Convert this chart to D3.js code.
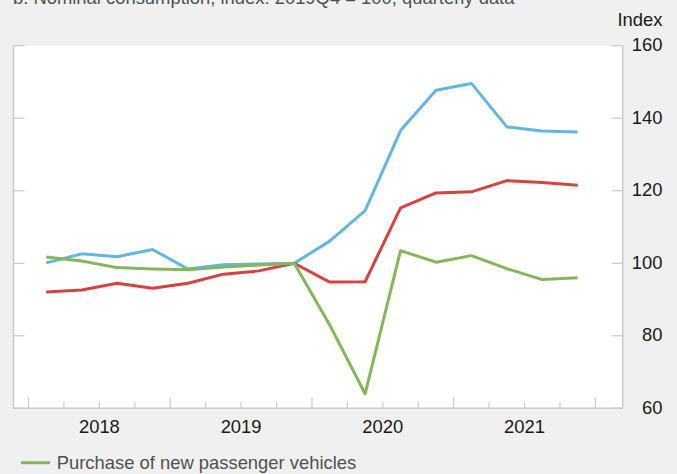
<!DOCTYPE html>
<html>
<head>
<meta charset="utf-8">
<script src="https://cdn.jsdelivr.net/npm/d3@7"></script>
<style>
html,body{margin:0;padding:0;background:#f0f0f0;}
svg{display:block;}
text{font-family:"Liberation Sans",Arial,Helvetica,sans-serif;}
</style>
</head>
<body>
<svg id="chart" width="677" height="474"></svg>
<script>
// Quarters 2018Q1 .. 2021Q4
const quarters = ["2018Q1","2018Q2","2018Q3","2018Q4","2019Q1","2019Q2","2019Q3","2019Q4",
                  "2020Q1","2020Q2","2020Q3","2020Q4","2021Q1","2021Q2","2021Q3","2021Q4"];
const years = [2018, 2019, 2020, 2021];
const yTicks = [60, 80, 100, 120, 140, 160];

const blueValues  = [100.1, 102.6, 101.8, 103.8, 98.4, 99.6, 99.8, 100, 106.1, 114.5, 136.6, 147.7, 149.6, 137.6, 136.5, 136.2];
const redValues   = [92.1, 92.6, 94.5, 93.1, 94.5, 97.0, 97.9, 100, 94.8, 94.9, 115.3, 119.4, 119.7, 122.8, 122.3, 121.5];
const greenValues = [101.7, 100.65, 98.8, 98.45, 98.2, 99.0, 99.5, 100, 83.0, 64.0, 103.5, 100.3, 102.1, 98.5, 95.5, 96.0];

const seriesNames = ["Blue series", "Red series", "Purchase of new passenger vehicles"];
const colors = ["#63b6df", "#d6433e", "#84b75a"];

const title = "b. Nominal consumption, index: 2019Q4 = 100, quarterly data";

const svg = d3.select("#chart");
const L = 13.5, R = 622.7, T = 45.7, B = 408.3;
const FS = 18.4;

// x: quarter index (0 = start of 2018Q1)
const x = d3.scaleLinear().domain([-0.424, 16.77]).range([L, R]);
const y = d3.scaleLinear().domain([60, 160]).range([B, T]);

// title (cut off at top, as in the reference)
svg.append("text").attr("x", 13).attr("y", 4).attr("font-size", FS).attr("fill", "#505050").text(title);

// plot area
svg.append("rect").attr("x", L).attr("y", T).attr("width", R - L).attr("height", B - T).attr("fill", "#fff");

const axisColor = "#c9c9c9";
// frame lines: left, bottom, right
svg.append("line").attr("x1", L).attr("x2", L).attr("y1", T).attr("y2", B).attr("stroke", axisColor).attr("stroke-width", 1.5);
svg.append("line").attr("x1", R).attr("x2", R).attr("y1", T).attr("y2", B).attr("stroke", axisColor).attr("stroke-width", 1.5);
svg.append("line").attr("x1", L).attr("x2", R).attr("y1", B).attr("y2", B).attr("stroke", axisColor).attr("stroke-width", 1.5);

// y ticks (left inward and right inward)
const yt = svg.append("g");
yTicks.forEach(v => {
  yt.append("line").attr("x1", L).attr("x2", L + 11).attr("y1", y(v)).attr("y2", y(v)).attr("stroke", axisColor).attr("stroke-width", 1.2);
  yt.append("line").attr("x1", R - 11).attr("x2", R).attr("y1", y(v)).attr("y2", y(v)).attr("stroke", axisColor).attr("stroke-width", 1.2);
});
// right axis labels
const yAxis = d3.axisRight(y).tickValues(yTicks).tickSize(0).tickPadding(0).tickFormat(d3.format("d"));
const ya = svg.append("g").attr("transform", `translate(662.5,0)`).call(yAxis);
ya.select(".domain").remove();
ya.selectAll("text").attr("text-anchor", "end").attr("font-size", FS).attr("fill", "#1a1a1a")
  .attr("font-family", "Liberation Sans, Arial, sans-serif").attr("dy", "0.28em");
svg.append("text").attr("x", 662.5).attr("y", 25.7).attr("text-anchor", "end").attr("font-size", FS).attr("fill", "#1a1a1a").text("Index");

// x ticks at quarter boundaries
const xb = d3.range(0, quarters.length + 1);
const xt = svg.append("g");
xb.forEach(i => {
  const major = i % 4 === 0;
  xt.append("line").attr("x1", x(i)).attr("x2", x(i)).attr("y1", B).attr("y2", B - (major ? 11 : 6))
    .attr("stroke", axisColor).attr("stroke-width", 1.2);
});
// year labels
years.forEach((yr, k) => {
  svg.append("text").attr("x", x(k * 4 + 2)).attr("y", 432.7).attr("text-anchor", "middle")
    .attr("font-size", FS).attr("fill", "#1a1a1a").text(yr);
});

// lines
const line = d3.line().x((d, i) => x(i + 0.5)).y(d => y(d));
[blueValues, redValues, greenValues].forEach((vals, k) => {
  svg.append("path").datum(vals).attr("d", line).attr("fill", "none")
    .attr("stroke", colors[k]).attr("stroke-width", 3).attr("stroke-linejoin", "round");
});

// legend (only last item visible)
svg.append("line").attr("x1", 21).attr("x2", 50).attr("y1", 462.7).attr("y2", 462.7).attr("stroke", colors[2]).attr("stroke-width", 3);
svg.append("text").attr("x", 56.7).attr("y", 468.5).attr("font-size", FS).attr("fill", "#505050").text(seriesNames[2]);
</script>
</body>
</html>
